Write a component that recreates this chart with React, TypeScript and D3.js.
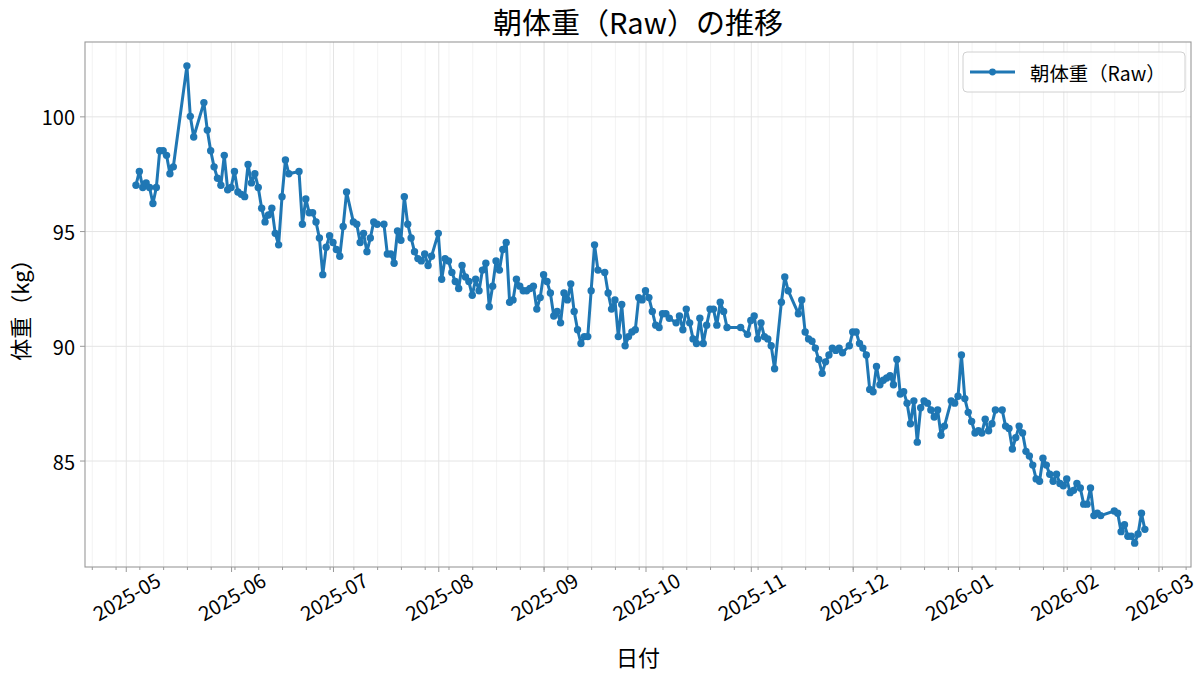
import {
  axisBottom,
  axisLeft,
  line,
  max,
  min,
  scaleLinear,
  scaleTime,
  select,
  timeFormat,
  timeMonday,
  timeMonth,
} from "d3";
import { useEffect, useRef } from "react";

// months covered by the log, then the recorded days and morning weights for each month
const MONTHS = [
  "2025-05", "2025-06", "2025-07", "2025-08", "2025-09",
  "2025-10", "2025-11", "2025-12", "2026-01", "2026-02",
];

const DAYS: number[][] = [
  [4, 5, 6, 7, 8, 9, 10, 11, 12, 13, 14, 15, 19, 20, 21, 24, 25, 26, 27, 28, 29, 30, 31],
  [1, 2, 3, 4, 5, 6, 7, 8, 9, 10, 11, 12, 13, 14, 15, 16, 17, 18, 21, 22, 23, 24, 25, 26, 27, 28, 29, 30],
  [1, 2, 3, 4, 5, 7, 8, 9, 10, 11, 12, 13, 14, 16, 17, 18, 19, 20, 21, 22, 23, 24, 25, 26, 27, 28, 29, 30],
  [1, 2, 3, 4, 5, 6, 7, 8, 9, 10, 11, 12, 13, 14, 15, 16, 17, 18, 19, 20, 21, 22, 23, 24, 25, 26, 27, 28, 29, 30, 31],
  [1, 2, 3, 4, 5, 6, 7, 8, 9, 10, 11, 12, 13, 14, 15, 16, 17, 19, 20, 21, 22, 23, 24, 25, 26, 27, 28, 29, 30],
  [1, 2, 3, 4, 5, 6, 7, 8, 10, 11, 12, 13, 14, 15, 16, 17, 18, 19, 20, 21, 22, 23, 24, 25, 29, 31],
  [1, 2, 3, 4, 5, 6, 7, 8, 10, 11, 12, 15, 16, 17, 18, 19, 20, 21, 22, 23, 24, 25, 26, 27, 28, 30],
  [1, 2, 3, 4, 5, 6, 7, 8, 9, 10, 11, 12, 13, 14, 15, 16, 17, 18, 19, 20, 21, 22, 23, 24, 25, 26, 27, 28, 30, 31],
  [1, 2, 3, 4, 5, 6, 7, 8, 9, 10, 11, 12, 14, 15, 16, 17, 18, 19, 20, 21, 22, 23, 24, 25, 26, 27, 28, 29, 30, 31],
  [1, 2, 3, 4, 5, 6, 7, 8, 9, 10, 11, 12, 16, 17, 18, 19, 20, 21, 22, 23, 24, 25],
];

const WEIGHTS: number[][] = [
  [97.0, 97.6, 96.9, 97.1, 96.9, 96.2, 96.9, 98.5, 98.5, 98.3, 97.5, 97.8, 102.2, 100.0, 99.1, 100.6, 99.4, 98.5, 97.8, 97.3, 97.0, 98.3, 96.8],
  [96.9, 97.6, 96.7, 96.6, 96.5, 97.9, 97.1, 97.5, 96.9, 96.0, 95.4, 95.7, 96.0, 94.9, 94.4, 96.5, 98.1, 97.5, 97.6, 95.3, 96.4, 95.8, 95.8, 95.4, 94.7, 93.1, 94.3, 94.8],
  [94.5, 94.2, 93.9, 95.2, 96.7, 95.4, 95.3, 94.5, 94.9, 94.1, 94.7, 95.4, 95.3, 95.3, 94.0, 94.0, 93.6, 95.0, 94.6, 96.5, 95.3, 94.7, 94.1, 93.8, 93.7, 94.0, 93.5, 93.9],
  [94.9, 92.9, 93.8, 93.7, 93.2, 92.8, 92.5, 93.5, 93.0, 92.8, 92.2, 92.9, 92.4, 93.3, 93.6, 91.7, 92.6, 93.7, 93.3, 94.2, 94.5, 91.9, 92.0, 92.9, 92.6, 92.4, 92.4, 92.5, 92.6, 91.6, 92.1],
  [93.1, 92.8, 92.3, 91.3, 91.5, 91.0, 92.3, 92.0, 92.7, 91.5, 90.7, 90.1, 90.4, 90.4, 92.4, 94.4, 93.3, 93.2, 92.3, 91.6, 92.0, 90.4, 91.8, 90.0, 90.4, 90.6, 90.7, 92.1, 92.0],
  [92.4, 92.1, 91.5, 90.9, 90.8, 91.4, 91.4, 91.2, 91.0, 91.3, 90.7, 91.6, 91.0, 90.3, 90.1, 91.2, 90.1, 90.9, 91.6, 91.6, 90.9, 91.9, 91.5, 90.8, 90.8, 90.5],
  [91.1, 91.3, 90.3, 91.0, 90.4, 90.3, 90.0, 89.0, 91.9, 93.0, 92.4, 91.4, 92.0, 90.6, 90.3, 90.2, 89.9, 89.4, 88.8, 89.3, 89.6, 89.9, 89.8, 89.9, 89.7, 90.0],
  [90.6, 90.6, 90.1, 89.9, 89.6, 88.1, 88.0, 89.1, 88.3, 88.5, 88.6, 88.7, 88.3, 89.4, 87.9, 88.0, 87.5, 86.6, 87.6, 85.8, 87.3, 87.6, 87.5, 87.2, 86.9, 87.2, 86.1, 86.5, 87.6, 87.5],
  [87.8, 89.6, 87.7, 87.1, 86.7, 86.2, 86.3, 86.2, 86.8, 86.3, 86.6, 87.2, 87.2, 86.5, 86.4, 85.5, 86.0, 86.5, 86.2, 85.4, 85.2, 84.8, 84.2, 84.1, 85.1, 84.8, 84.4, 84.1, 84.4, 84.0],
  [83.9, 84.2, 83.6, 83.7, 84.0, 83.8, 83.1, 83.1, 83.8, 82.6, 82.7, 82.6, 82.8, 82.7, 81.9, 82.2, 81.7, 81.7, 81.4, 81.8, 82.7, 82.0],
];

const SERIES_LABEL = "朝体重（Raw）";
const TITLE = "朝体重（Raw）の推移";
const X_LABEL = "日付";
const Y_LABEL = "体重（kg）";

// visible date range of the x axis
const X_LIMITS: [Date, Date] = [new Date(2025, 3, 19), new Date(2026, 2, 10, 14)];

const BLUE = "#1f77b4";
const FONT = "'Noto Sans CJK JP', 'Noto Sans', sans-serif";

interface Point {
  date: Date;
  weight: number;
}

function buildPoints(): Point[] {
  const points: Point[] = [];
  MONTHS.forEach((key, m) => {
    const [year, month] = key.split("-").map(Number);
    DAYS[m].forEach((day, i) => {
      points.push({ date: new Date(year, month - 1, day), weight: WEIGHTS[m][i] });
    });
  });
  return points;
}

export default function App() {
  const svgRef = useRef<SVGSVGElement | null>(null);

  useEffect(() => {
    document.body.style.margin = "0";
    if (!svgRef.current) return;
    const svg = select(svgRef.current);
    svg.selectAll("*").remove();

    const width = 1200;
    const height = 675;
    const margin = { top: 42, right: 9, bottom: 108, left: 85 };
    const innerWidth = width - margin.left - margin.right;
    const innerHeight = height - margin.top - margin.bottom;

    const data = buildPoints();
    const lo = min(data, (d) => d.weight) ?? 80;
    const hi = max(data, (d) => d.weight) ?? 100;
    const pad = (hi - lo) * 0.05;

    const x = scaleTime().domain(X_LIMITS).range([0, innerWidth]);
    const y = scaleLinear().domain([lo - pad, hi + pad]).range([innerHeight, 0]);

    const monthTicks = timeMonth.range(timeMonth.ceil(X_LIMITS[0]), X_LIMITS[1]);
    const weekTicks = timeMonday.range(X_LIMITS[0], X_LIMITS[1]);
    const yTicks = y.ticks(5);

    const chart = svg.append("g").attr("transform", `translate(${margin.left},${margin.top})`);

    // grid: weekly minor, monthly major, horizontal major
    chart
      .append("g")
      .attr("transform", `translate(0,${innerHeight})`)
      .call(axisBottom(x).tickValues(weekTicks).tickSize(-innerHeight).tickFormat(() => ""))
      .call((g) => g.select(".domain").remove())
      .call((g) => g.selectAll("line").attr("stroke", "#f0f0f0").attr("stroke-width", 0.8));
    chart
      .append("g")
      .attr("transform", `translate(0,${innerHeight})`)
      .call(axisBottom(x).tickValues(monthTicks).tickSize(-innerHeight).tickFormat(() => ""))
      .call((g) => g.select(".domain").remove())
      .call((g) => g.selectAll("line").attr("stroke", "#e4e4e4").attr("stroke-width", 1));
    chart
      .append("g")
      .call(axisLeft(y).tickValues(yTicks).tickSize(-innerWidth).tickFormat(() => ""))
      .call((g) => g.select(".domain").remove())
      .call((g) => g.selectAll("line").attr("stroke", "#e4e4e4").attr("stroke-width", 1));

    const path = line<Point>()
      .x((d) => x(d.date))
      .y((d) => y(d.weight));

    chart
      .append("path")
      .datum(data)
      .attr("d", path)
      .attr("fill", "none")
      .attr("stroke", BLUE)
      .attr("stroke-width", 3)
      .attr("stroke-linejoin", "round")
      .attr("stroke-linecap", "round");

    chart
      .append("g")
      .selectAll("circle")
      .data(data)
      .join("circle")
      .attr("cx", (d) => x(d.date))
      .attr("cy", (d) => y(d.weight))
      .attr("r", 3.7)
      .attr("fill", BLUE);

    // frame
    chart
      .append("rect")
      .attr("width", innerWidth)
      .attr("height", innerHeight)
      .attr("fill", "none")
      .attr("stroke", "#999999")
      .attr("stroke-width", 1.1);

    // x axis: minor weekly ticks, major monthly ticks with rotated labels
    chart
      .append("g")
      .attr("transform", `translate(0,${innerHeight})`)
      .call(axisBottom(x).tickValues(weekTicks).tickSize(3).tickFormat(() => ""))
      .call((g) => g.select(".domain").remove())
      .call((g) => g.selectAll("line").attr("stroke", "#999999"));
    const xAxisGroup = chart
      .append("g")
      .attr("transform", `translate(0,${innerHeight})`)
      .call(
        axisBottom(x)
          .tickValues(monthTicks)
          .tickSize(5)
          .tickFormat((d) => timeFormat("%Y-%m")(d as Date)),
      );
    xAxisGroup.select(".domain").remove();
    xAxisGroup.selectAll("line").attr("stroke", "#999999");
    xAxisGroup
      .selectAll("text")
      .attr("y", 0)
      .attr("dy", 0)
      .attr("dominant-baseline", "central")
      .attr("transform", "translate(0,29) rotate(-30)")
      .style("text-anchor", "middle")
      .style("font-family", FONT)
      .style("font-size", "20px")
      .attr("fill", "#000");

    const yAxisGroup = chart.append("g").call(axisLeft(y).tickValues(yTicks).tickSize(5).tickPadding(5));
    yAxisGroup.select(".domain").remove();
    yAxisGroup.selectAll("line").attr("stroke", "#999999");
    yAxisGroup
      .selectAll("text")
      .attr("dy", 0)
      .attr("dominant-baseline", "central")
      .style("font-family", FONT)
      .style("font-size", "20px")
      .attr("fill", "#000");

    // legend
    const legend = chart.append("g").attr("transform", `translate(${innerWidth - 228},10)`);
    legend
      .append("rect")
      .attr("width", 222)
      .attr("height", 40)
      .attr("rx", 4)
      .attr("fill", "#fff")
      .attr("fill-opacity", 0.8)
      .attr("stroke", "#d0d0d0");
    legend
      .append("line")
      .attr("x1", 7)
      .attr("x2", 52)
      .attr("y1", 20)
      .attr("y2", 20)
      .attr("stroke", BLUE)
      .attr("stroke-width", 3);
    legend.append("circle").attr("cx", 29.5).attr("cy", 20).attr("r", 3.4).attr("fill", BLUE);
    legend
      .append("text")
      .attr("x", 67)
      .attr("y", 20)
      .attr("dominant-baseline", "central")
      .style("font-family", FONT)
      .style("font-size", "19.4px")
      .text(SERIES_LABEL);

    svg
      .append("text")
      .attr("x", margin.left + innerWidth / 2)
      .attr("y", 34)
      .attr("text-anchor", "middle")
      .style("font-family", FONT)
      .style("font-size", "29px")
      .text(TITLE);

    svg
      .append("text")
      .attr("x", margin.left + innerWidth / 2)
      .attr("y", 666)
      .attr("text-anchor", "middle")
      .style("font-family", FONT)
      .style("font-size", "22px")
      .text(X_LABEL);

    svg
      .append("text")
      .attr("transform", `translate(19,${margin.top + innerHeight / 2}) rotate(-90)`)
      .attr("text-anchor", "middle")
      .attr("dominant-baseline", "central")
      .style("font-family", FONT)
      .style("font-size", "22px")
      .text(Y_LABEL);
  }, []);

  return (
    <svg
      ref={svgRef}
      width={1200}
      height={675}
      viewBox="0 0 1200 675"
      style={{ display: "block", background: "#fff" }}
      role="img"
      aria-label={TITLE}
    />
  );
}
